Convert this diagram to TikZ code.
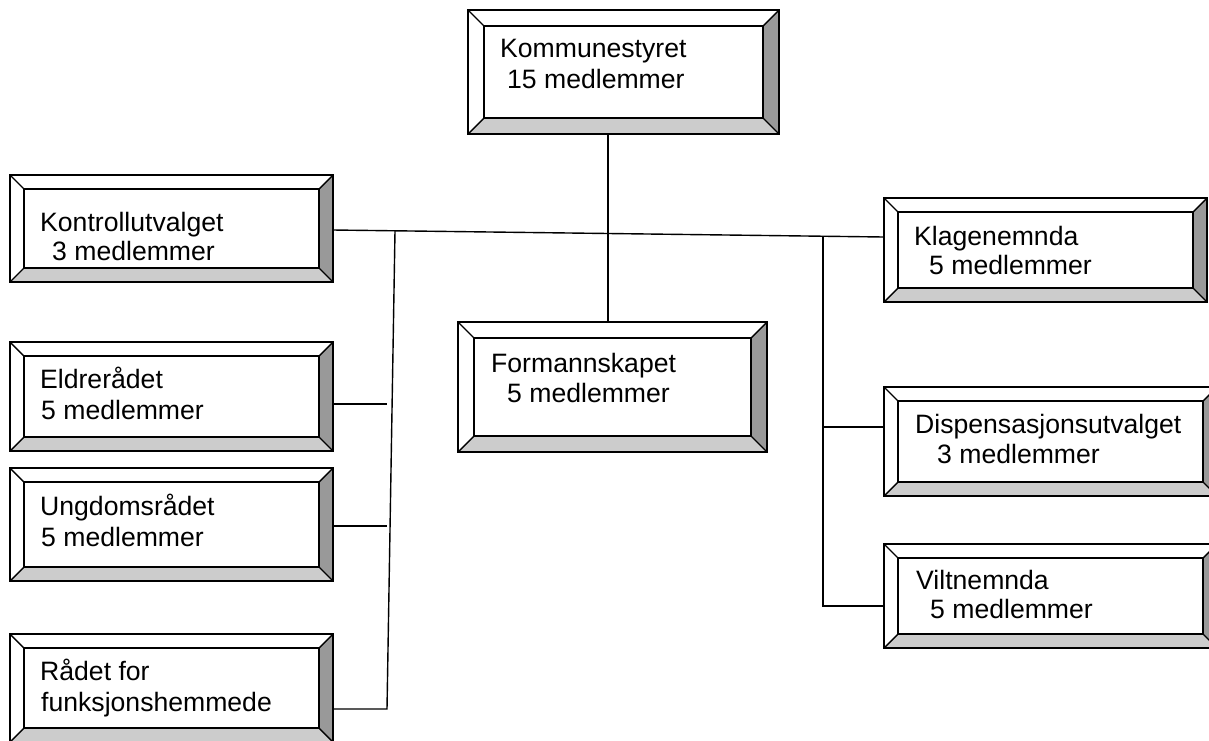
\documentclass[tikz,border=0pt]{standalone}
\usepackage{fontspec}
\setmainfont{Liberation Sans}
\usetikzlibrary{calc}
\definecolor{bevdark}{HTML}{999999}
\definecolor{bevlight}{HTML}{CCCCCC}
\tikzset{
  outerbox/.style={draw=black, line width=1.4pt, fill=white, inner sep=0pt, outer sep=0pt, anchor=north west},
  edgeline/.style={draw=black, line width=1.4pt},
  conn/.style={draw=black, line width=1.4pt},
  lbl/.style={anchor=base west, inner sep=0pt, font=\fontsize{26.6}{31}\selectfont},
}
\newcommand{\bevelbox}[6]{%
  \node[outerbox, minimum width=#4pt, minimum height=#5pt] (#1) at (#2,#3) {};
  \fill[bevdark] (#1.north east) -- (#1.south east) -- ([shift={(-#6pt,#6pt)}]#1.south east) -- ([shift={(-#6pt,-#6pt)}]#1.north east) -- cycle;
  \fill[bevlight] (#1.south west) -- (#1.south east) -- ([shift={(-#6pt,#6pt)}]#1.south east) -- ([shift={(#6pt,#6pt)}]#1.south west) -- cycle;
  \draw[edgeline] ([shift={(#6pt,-#6pt)}]#1.north west) rectangle ([shift={(-#6pt,#6pt)}]#1.south east);
  \draw[edgeline] (#1.north west) -- ([shift={(#6pt,-#6pt)}]#1.north west)
     (#1.north east) -- ([shift={(-#6pt,-#6pt)}]#1.north east)
     (#1.south west) -- ([shift={(#6pt,#6pt)}]#1.south west)
     (#1.south east) -- ([shift={(-#6pt,#6pt)}]#1.south east);
  \draw[edgeline] (#1.north west) rectangle (#1.south east);
}
\begin{document}
\begin{tikzpicture}[x=1pt, y=-1pt]
\useasboundingbox[fill=white] (0,0) rectangle (1209,740);

% boxes
\bevelbox{kom}{468}{10}{311}{124}{16}
\bevelbox{form}{458}{322}{309}{130}{16}
\bevelbox{kontroll}{10}{175}{323}{107}{14}
\bevelbox{elder}{10}{342}{323}{109}{14}
\bevelbox{ungdom}{10}{468}{323}{113}{14}
\bevelbox{raadet}{10}{634}{323}{108}{14}
\bevelbox{klage}{884}{198}{323}{104}{14}
\bevelbox{disp}{884}{387}{333}{109}{14}
\bevelbox{vilt}{884}{544}{333}{104}{14}

% labels
\node[lbl] (kom-a) at (500,57) {Kommunestyret};
\node[lbl] (kom-b) at (507,88) {15 medlemmer};
\node[lbl] (form-a) at (491,372) {Formannskapet};
\node[lbl] (form-b) at (507,402) {5 medlemmer};
\node[lbl] (kontroll-a) at (40,231) {Kontrollutvalget};
\node[lbl] (kontroll-b) at (52,260) {3 medlemmer};
\node[lbl] (elder-a) at (40,388) {Eldrerådet};
\node[lbl] (elder-b) at (41,419) {5 medlemmer};
\node[lbl] (ungdom-a) at (40,515) {Ungdomsrådet};
\node[lbl] (ungdom-b) at (41,546) {5 medlemmer};
\node[lbl] (raadet-a) at (40,680) {Rådet for};
\node[lbl] (raadet-b) at (41,711) {funksjonshemmede};
\node[lbl] (klage-a) at (914,245) {Klagenemnda};
\node[lbl] (klage-b) at (929,274) {5 medlemmer};
\node[lbl] (disp-a) at (915,433) {Dispensasjonsutvalget};
\node[lbl] (disp-b) at (937,463) {3 medlemmer};
\node[lbl] (vilt-a) at (916,589) {Viltnemnda};
\node[lbl] (vilt-b) at (930,618) {5 medlemmer};

% junction coordinates
\coordinate (ljtop) at (395,231);
\coordinate (ljbot) at (387,709);
\coordinate (rjtop) at (823,236.5);
\coordinate (rjbot) at (823,606);
\coordinate (kx) at (608,134);
\coordinate (fx) at (608,322);

% connectors
\draw[conn] (kx) -- (fx);
\draw[conn] ([yshift=-1.5pt]kontroll.east) -- ([yshift=13pt]klage.west);
\draw[conn] (ljtop) -- (ljbot) -- ([yshift=-21pt]raadet.east);
\draw[conn] ([yshift=-7.5pt]elder.east) -- ([yshift=-7.5pt]elder.east -| ljbot);
\draw[conn] ([yshift=-1.5pt]ungdom.east) -- ([yshift=-1.5pt]ungdom.east -| ljbot);
\draw[conn] (rjtop) -- (rjbot) -- ([yshift=-10pt]vilt.west);
\draw[conn] ([yshift=14.5pt]disp.west) -- ([yshift=14.5pt]disp.west -| rjtop);
\end{tikzpicture}
\end{document}
